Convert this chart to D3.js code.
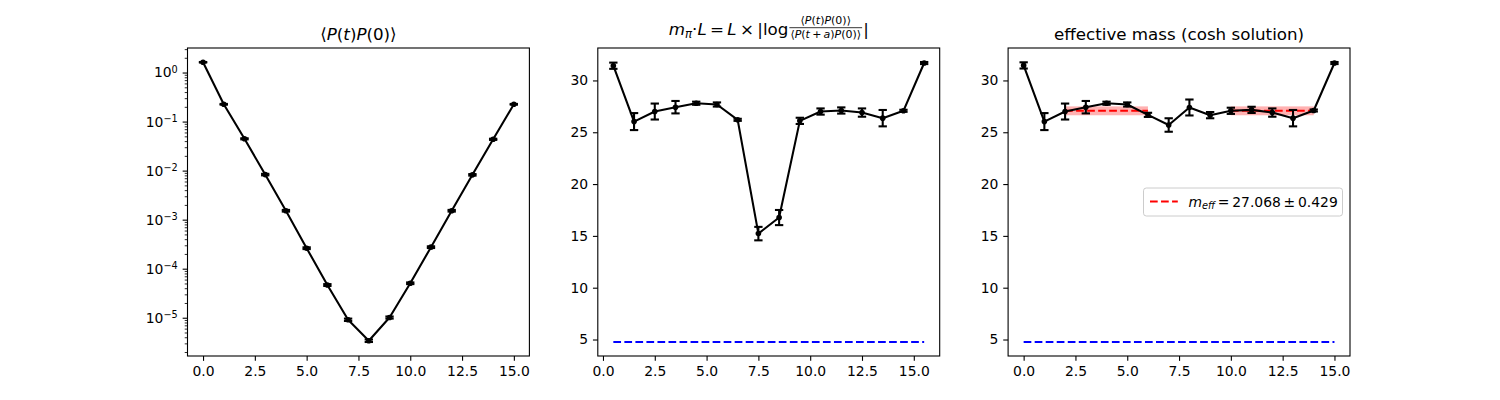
<!DOCTYPE html>
<html>
<head>
<meta charset="utf-8">
<script src="https://cdn.jsdelivr.net/npm/d3@7"></script>
<style>
  body { margin: 0; background: #fff; }
  text { font-family: "DejaVu Sans", sans-serif; white-space: pre; }
</style>
</head>
<body>
<div id="chart-container"></div>
<script>
// Data
const tCorr = [0, 1, 2, 3, 4, 5, 6, 7, 8, 9, 10, 11, 12, 13, 14, 15];
const corrValues = [1.62, 0.225, 0.0445, 0.0083, 0.00152, 0.000262, 0.0000465, 0.0000091, 0.0000034, 0.0000101, 0.0000505, 0.000275, 0.00152, 0.0082, 0.0435, 0.225];
const corrErrors = [0.02, 0.004, 0.0012, 0.0003, 0.00006, 0.000011, 0.000002, 0.0000005, 0.0000002, 0.0000005, 0.000002, 0.000011, 0.00006, 0.0003, 0.0012, 0.004];

const tMass = [0.5, 1.5, 2.5, 3.5, 4.5, 5.5, 6.5, 7.5, 8.5, 9.5, 10.5, 11.5, 12.5, 13.5, 14.5, 15.5];
const massValues = [31.42, 26.03, 27.0, 27.42, 27.8, 27.68, 26.2, 15.22, 16.77, 26.1, 27.0, 27.1, 26.9, 26.36, 27.07, 31.68];
const massErrors = [0.3, 0.82, 0.77, 0.6, 0.15, 0.2, 0.1, 0.65, 0.73, 0.3, 0.3, 0.3, 0.4, 0.79, 0.1, 0.1];

const tCosh = [0, 1, 2, 3, 4, 5, 6, 7, 8, 9, 10, 11, 12, 13, 14, 15];
const coshValues = [31.45, 26.03, 27.0, 27.42, 27.8, 27.68, 26.68, 25.7, 27.39, 26.65, 27.07, 27.16, 26.9, 26.36, 27.1, 31.68];
const coshErrors = [0.3, 0.82, 0.77, 0.6, 0.15, 0.2, 0.2, 0.65, 0.77, 0.3, 0.3, 0.3, 0.4, 0.79, 0.1, 0.1];

const plateauRanges = [[2, 6], [10, 14]];
const plateauMass = 27.068;
const plateauError = 0.429;
const referenceLine = 4.76;

const xTicks = [0, 2.5, 5, 7.5, 10, 12.5, 15];
const linTicks = [5, 10, 15, 20, 25, 30];
const logExponents = [0, -1, -2, -3, -4, -5];

// Layout (matplotlib-like subplots, 1pt = 100/72 px)
const W = 1500, H = 400;
const plotTop = 48, plotBottom = 356;
const panelW = 341.9;
const lefts = [187.5, 597.8, 1008.1];
const innerH = plotBottom - plotTop;
const fontTick = 13.9, fontTitle = 16.7;
const lineW = 2.08;
const dash = "7.7,3.33";

const svg = d3.select("#chart-container")
  .append("svg")
  .attr("width", W)
  .attr("height", H);

svg.append("rect").attr("width", W).attr("height", H).attr("fill", "#fff");

function padded(lo, hi) {
  const d = (hi - lo) * 0.05;
  return [lo - d, hi + d];
}

function styleAxis(g) {
  g.select(".domain").remove();
  g.selectAll(".tick line").attr("stroke", "#000").attr("stroke-width", 1.1);
  g.selectAll(".tick text").attr("fill", "#000");
  g.attr("font-size", fontTick).attr("font-family", "DejaVu Sans, sans-serif");
}

function frame(g) {
  g.append("rect")
    .attr("width", panelW)
    .attr("height", innerH)
    .attr("fill", "none")
    .attr("stroke", "#000")
    .attr("stroke-width", 1.1);
}

function drawSeries(g, x, y, xs, vs, es) {
  const pts = xs.map((t, i) => ({ t: t, v: vs[i], e: es[i] }));
  const line = d3.line().x(d => x(d.t)).y(d => y(d.v));
  const bars = g.append("g").attr("stroke", "#000").attr("stroke-width", lineW);
  pts.forEach(d => {
    const px = x(d.t), y0 = y(d.v - d.e), y1 = y(d.v + d.e);
    bars.append("line").attr("x1", px).attr("x2", px).attr("y1", y0).attr("y2", y1);
    bars.append("line").attr("x1", px - 4.17).attr("x2", px + 4.17).attr("y1", y0).attr("y2", y0);
    bars.append("line").attr("x1", px - 4.17).attr("x2", px + 4.17).attr("y1", y1).attr("y2", y1);
  });
  g.append("path")
    .datum(pts)
    .attr("fill", "none")
    .attr("stroke", "#000")
    .attr("stroke-width", lineW)
    .attr("stroke-linejoin", "round")
    .attr("d", line);
  g.selectAll(null)
    .data(pts)
    .join("circle")
    .attr("cx", d => x(d.t))
    .attr("cy", d => y(d.v))
    .attr("r", 2.8)
    .attr("fill", "#000");
}

function xAxis(g, x) {
  g.append("g")
    .attr("transform", `translate(0,${innerH})`)
    .call(d3.axisBottom(x).tickValues(xTicks).tickFormat(d3.format(".1f"))
      .tickSize(4.86).tickPadding(4.86))
    .call(styleAxis);
}

function linearYAxis(g, y) {
  g.append("g")
    .call(d3.axisLeft(y).tickValues(linTicks).tickFormat(d3.format("d"))
      .tickSize(4.86).tickPadding(4.86))
    .call(styleAxis);
}

function dashedLine(g, x1, x2, yv, color) {
  g.append("line")
    .attr("x1", x1).attr("x2", x2)
    .attr("y1", yv).attr("y2", yv)
    .attr("stroke", color).attr("stroke-width", lineW)
    .attr("stroke-dasharray", dash);
}

// ---------- Panel 1: correlator, log scale ----------
{
  const g = svg.append("g").attr("transform", `translate(${lefts[0]},${plotTop})`);
  const x = d3.scaleLinear().domain(padded(d3.min(tCorr), d3.max(tCorr))).range([0, panelW]);
  const lo = Math.log10(d3.min(corrValues.map((v, i) => v - corrErrors[i])));
  const hi = Math.log10(d3.max(corrValues.map((v, i) => v + corrErrors[i])));
  const ld = padded(lo, hi);
  const y = d3.scaleLog().domain([Math.pow(10, ld[0]), Math.pow(10, ld[1])]).range([innerH, 0]);

  // minor ticks
  const minors = [];
  for (let e = -7; e <= 1; e++) {
    for (let m = 2; m <= 9; m++) {
      const v = m * Math.pow(10, e);
      if (v >= y.domain()[0] && v <= y.domain()[1]) minors.push(v);
    }
  }
  g.append("g")
    .call(d3.axisLeft(y).tickValues(minors).tickFormat("").tickSize(2.78))
    .call(styleAxis)
    .selectAll(".tick line").attr("stroke-width", 0.83);

  const yAx = g.append("g")
    .call(d3.axisLeft(y).tickValues(logExponents.map(e => Math.pow(10, e)))
      .tickFormat("").tickSize(4.86).tickPadding(4.86))
    .call(styleAxis);
  yAx.selectAll(".tick text").each(function (d) {
    const t = d3.select(this);
    const e = Math.round(Math.log10(d));
    t.text("10");
    t.append("tspan").attr("dy", "-0.45em").attr("font-size", "0.7em")
      .text(e < 0 ? "\u2212" + (-e) : String(e));
  });

  xAxis(g, x);
  drawSeries(g, x, y, tCorr, corrValues, corrErrors);
  frame(g);

  const title = g.append("text")
    .attr("x", panelW / 2)
    .attr("y", -8.3)
    .attr("text-anchor", "middle")
    .attr("font-size", fontTitle);
  title.append("tspan").text("\u27E8");
  title.append("tspan").attr("font-style", "italic").text("P");
  title.append("tspan").text("(");
  title.append("tspan").attr("font-style", "italic").text("t");
  title.append("tspan").text(")");
  title.append("tspan").attr("font-style", "italic").text("P");
  title.append("tspan").text("(0)\u27E9");
}

// shared y domain for the mass panels
const massLo = d3.min([referenceLine].concat(massValues.map((v, i) => v - massErrors[i])));
const massHi = d3.max(massValues.map((v, i) => v + massErrors[i]));

// ---------- Panel 2: log ratio ----------
{
  const g = svg.append("g").attr("transform", `translate(${lefts[1]},${plotTop})`);
  const x = d3.scaleLinear().domain(padded(d3.min(tMass), d3.max(tMass))).range([0, panelW]);
  const y = d3.scaleLinear().domain(padded(massLo, massHi)).range([innerH, 0]);

  linearYAxis(g, y);
  xAxis(g, x);

  dashedLine(g, x(d3.min(tMass)), x(d3.max(tMass)), y(referenceLine), "blue");

  drawSeries(g, x, y, tMass, massValues, massErrors);
  frame(g);

  // title with a fraction
  const tg = g.append("g");
  const main = tg.append("text").attr("y", 0).attr("font-size", fontTitle);
  main.append("tspan").attr("font-style", "italic").text("m");
  main.append("tspan").attr("font-style", "italic").attr("font-size", "0.7em").attr("dy", 3).text("\u03C0");
  main.append("tspan").attr("dy", -3).text("\u00B7");
  main.append("tspan").attr("font-style", "italic").text("L");
  main.append("tspan").text("\u2009=\u2009");
  main.append("tspan").attr("font-style", "italic").text("L");
  main.append("tspan").text("\u2009\u00D7\u2009|log");
  const w0 = main.node().getComputedTextLength();

  const fs = 11;
  const num = tg.append("text").attr("font-size", fs).attr("text-anchor", "middle").attr("y", -10.2);
  num.append("tspan").text("\u27E8");
  num.append("tspan").attr("font-style", "italic").text("P");
  num.append("tspan").text("(");
  num.append("tspan").attr("font-style", "italic").text("t");
  num.append("tspan").text(")");
  num.append("tspan").attr("font-style", "italic").text("P");
  num.append("tspan").text("(0)\u27E9");
  const den = tg.append("text").attr("font-size", fs).attr("text-anchor", "middle").attr("y", 3.4);
  den.append("tspan").text("\u27E8");
  den.append("tspan").attr("font-style", "italic").text("P");
  den.append("tspan").text("(");
  den.append("tspan").attr("font-style", "italic").text("t");
  den.append("tspan").text("\u2009+\u2009");
  den.append("tspan").attr("font-style", "italic").text("a");
  den.append("tspan").text(")");
  den.append("tspan").attr("font-style", "italic").text("P");
  den.append("tspan").text("(0)\u27E9");
  const fw = Math.max(num.node().getComputedTextLength(), den.node().getComputedTextLength()) + 2;
  num.attr("x", w0 + 1 + fw / 2);
  den.attr("x", w0 + 1 + fw / 2);
  tg.append("line")
    .attr("x1", w0 + 1).attr("x2", w0 + 1 + fw)
    .attr("y1", -6.8).attr("y2", -6.8)
    .attr("stroke", "#000").attr("stroke-width", 0.8);
  const close = tg.append("text").attr("font-size", fontTitle).attr("x", w0 + fw + 2).text("|");
  const total = w0 + fw + 2 + close.node().getComputedTextLength();
  tg.attr("transform", `translate(${panelW / 2 - total / 2},${-13.5})`);
}

// ---------- Panel 3: effective mass (cosh) ----------
{
  const g = svg.append("g").attr("transform", `translate(${lefts[2]},${plotTop})`);
  const x = d3.scaleLinear().domain(padded(d3.min(tCosh), d3.max(tCosh))).range([0, panelW]);
  const y = d3.scaleLinear().domain(padded(massLo, massHi)).range([innerH, 0]);

  linearYAxis(g, y);
  xAxis(g, x);

  dashedLine(g, x(d3.min(tCosh)), x(d3.max(tCosh)), y(referenceLine), "blue");

  plateauRanges.forEach(r => {
    g.append("rect")
      .attr("x", x(r[0]))
      .attr("width", x(r[1]) - x(r[0]))
      .attr("y", y(plateauMass + plateauError))
      .attr("height", y(plateauMass - plateauError) - y(plateauMass + plateauError))
      .attr("fill", "red")
      .attr("fill-opacity", 0.3);
    dashedLine(g, x(r[0]), x(r[1]), y(plateauMass), "red");
  });

  drawSeries(g, x, y, tCosh, coshValues, coshErrors);
  frame(g);

  g.append("text")
    .attr("x", panelW / 2)
    .attr("y", -8.3)
    .attr("text-anchor", "middle")
    .attr("font-size", fontTitle)
    .text("effective mass (cosh solution)");

  // legend
  const lg = g.append("g").attr("transform", `translate(${1143.5 - lefts[2]},${188 - plotTop})`);
  lg.append("rect")
    .attr("width", 199).attr("height", 28).attr("rx", 2.8)
    .attr("fill", "#fff").attr("fill-opacity", 0.8)
    .attr("stroke", "#cccccc").attr("stroke-width", 1);
  dashedLine(lg, 6.5, 34.3, 13.5, "red");
  const lt = lg.append("text").attr("x", 45).attr("y", 18.5).attr("font-size", fontTick);
  lt.append("tspan").attr("font-style", "italic").text("m");
  lt.append("tspan").attr("font-style", "italic").attr("font-size", "0.7em").attr("dy", 2.5).text("eff");
  lt.append("tspan").attr("dy", -2.5)
    .text("\u2009=\u2009" + plateauMass.toFixed(3) + "\u2009\u00B1\u2009" + plateauError.toFixed(3));
}
</script>
</body>
</html>
